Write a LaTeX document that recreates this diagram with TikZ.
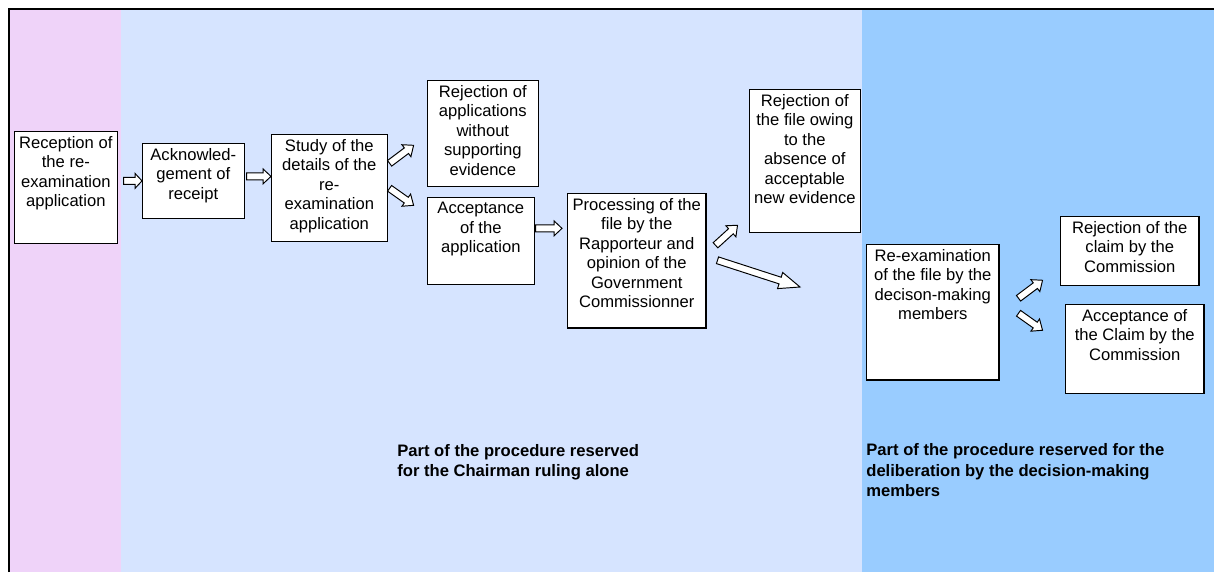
\documentclass[tikz,border=0pt]{standalone}
\usepackage{fontspec}
\setmainfont{Liberation Sans}
\usetikzlibrary{calc}
\newdimen\pxu
\pxu=0.56693pt
\definecolor{bgpink}{HTML}{EFD3F9}
\definecolor{bglight}{HTML}{D6E4FF}
\definecolor{bgblue}{HTML}{99CCFF}
\tikzset{
  box/.style={draw=black, fill=white, line width=0.6pt, inner sep=0pt, anchor=north west,
    font=\fontsize{9.45}{11.05}\selectfont},
  barr/.style={draw=black, fill=white, line width=0.55pt, line join=miter},
  partlabel/.style={anchor=north west, inner sep=0pt, align=left,
    font=\fontsize{9.45}{11.73}\selectfont\bfseries}
}
\newcommand\bx[6]{\node[box] (#1) at (#2,#3) {\parbox[t][#5\pxu][t]{#4\pxu}{\centering\vspace*{5\pxu}#6\par}};}
% block arrow from #1 to #2 ; shaft half width #3, head half width #4, head length #5 (px)
\newcommand\barrow[5]{\draw[barr]
  ($(#1)!{#3*0.56693pt}!90:(#2)$) --
  ($(#2)!{#5*0.56693pt}!(#1)!{#3*0.56693pt}!-90:(#1)$) --
  ($(#2)!{#5*0.56693pt}!(#1)!{#4*0.56693pt}!-90:(#1)$) --
  (#2) --
  ($(#2)!{#5*0.56693pt}!(#1)!{#4*0.56693pt}!90:(#1)$) --
  ($(#2)!{#5*0.56693pt}!(#1)!{#3*0.56693pt}!90:(#1)$) --
  ($(#1)!{#3*0.56693pt}!-90:(#2)$) -- cycle;}
\begin{document}
\begin{tikzpicture}[x=0.02cm, y=-0.02cm]
\useasboundingbox (0,0) rectangle (1214,572);
% backgrounds
\fill[bgpink] (10,10) rectangle (121,572);
\fill[bglight] (121,10) rectangle (862,572);
\fill[bgblue] (862,10) rectangle (1214,572);
\draw[line width=1.2pt] (9,572) -- (9,9) -- (1214,9);
% boxes
\bx{A}{14}{131}{103}{112}{Reception of\\the re-\\examination\\application}
\bx{B}{142}{143}{102}{75}{Acknowled-\\gement of\\receipt}
\bx{C}{271}{134}{116}{107}{Study of the\\details of the\\re-\\examination\\application}
\bx{D}{427}{80}{111}{106}{Rejection of\\applications\\without\\supporting\\evidence}
\bx{E}{427}{197}{107}{87}{Acceptance\\of the\\application}
\bx{F}{567}{193}{139}{135}{Processing of the\\file by the\\Rapporteur and\\opinion of the\\Government\\Commissionner}
\bx{G}{749}{89}{111}{144}{Rejection of\\the file owing\\to the\\absence of\\acceptable\\new evidence}
\bx{H}{866}{244}{133}{136}{Re-examination\\of the file by the\\decison-making\\members}
\bx{I}{1060}{216}{139}{69}{Rejection of the\\claim by the\\Commission}
\bx{J}{1065}{304}{139}{89}{Acceptance of\\the Claim by the\\Commission}
% arrow end points
\coordinate (ab1) at ($(A.east|-B.west)+(6,0)$);
\coordinate (ab2) at (B.west);
\coordinate (bc1) at ($(B.east)+(2,-4.5)$);
\coordinate (bc2) at (C.west|-bc1);
\coordinate (cd1) at ($(C.east)+(2,-24.5)$);
\coordinate (cd2) at ($(C.east)+(26,-42.5)$);
\coordinate (ce1) at ($(C.east)+(2,0.5)$);
\coordinate (ce2) at ($(C.east)+(26,17.5)$);
\coordinate (ef1) at ($(E.east)+(1,-12.5)$);
\coordinate (ef2) at ($(F.west|-ef1)+(-5,0)$);
\coordinate (fg1) at ($(F.east)+(9,-15.5)$);
\coordinate (fg2) at ($(F.east)+(31,-35.5)$);
\coordinate (fl1) at ($(F.east)+(11,-0.5)$);
\coordinate (flend) at (800,287);
\coordinate (hi1) at ($(H.east)+(19,-14)$);
\coordinate (hi2) at ($(H.east)+(43,-32)$);
\coordinate (hj1) at ($(H.east)+(19,1)$);
\coordinate (hj2) at ($(H.east)+(43,18)$);
% arrows
\barrow{ab1}{ab2}{3.5}{7.5}{7}
\barrow{bc1}{bc2}{3.5}{7.5}{8}
\barrow{cd1}{cd2}{3.5}{7.5}{9}
\barrow{ce1}{ce2}{3.5}{7.5}{9}
\barrow{ef1}{ef2}{3.5}{7.5}{8}
\barrow{fg1}{fg2}{3.5}{7.5}{9}
\barrow{fl1}{flend}{3.5}{8.5}{21}
\barrow{hi1}{hi2}{3.5}{7.5}{9}
\barrow{hj1}{hj2}{3.5}{7.5}{9}
% part labels
\node[partlabel] (L1) at (397,444) {Part of the procedure reserved\\for the Chairman ruling alone};
\node[partlabel] (L2) at (866,443) {Part of the procedure reserved for the\\deliberation by the decision-making\\members};
\end{tikzpicture}
\end{document}
